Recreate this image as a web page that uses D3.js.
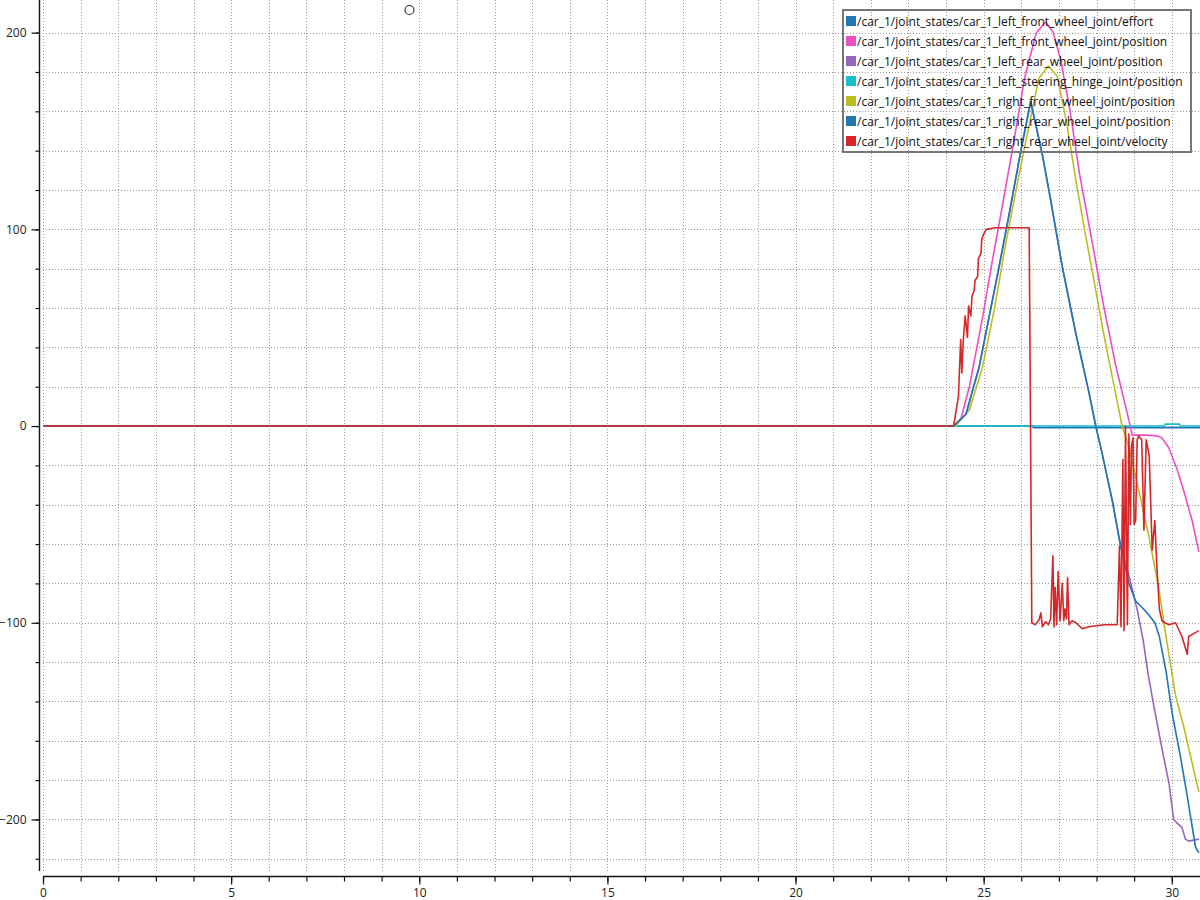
<!DOCTYPE html>
<html>
<head>
<meta charset="utf-8">
<script src="https://cdn.jsdelivr.net/npm/d3@7"></script>
<style>
  body { margin: 0; background: #fff; }
  svg { display: block; font-family: "Open Sans", Roboto, sans-serif; }
</style>
</head>
<body>
<svg id="chart" width="1200" height="900"></svg>
<script>
// time (s), value pairs
const effort = [[0,0],[26.3,0],[26.32,-0.8],[30.75,-0.8]];

const leftFrontPos = [[0,0],[24.2,0],[24.4,4],[24.62,20],[24.97,55],[25.23,84],[25.46,108],[25.76,140],[26.1,178],[26.4,200],
  [26.65,205.5],[26.85,200],[27.05,186],[27.3,160],[27.55,128],[27.9,92],[28.18,62],[28.52,30],[28.86,3],[28.95,-4.6],
  [29.3,-4.6],[29.62,-5],[29.74,-6],[29.92,-11],[30.14,-22],[30.32,-33],[30.54,-48],[30.72,-64]];

const leftRearPos = [[0,0],[24.2,0],[24.53,6],[24.88,30],[25.15,56],[25.41,81],[25.68,108],[25.99,140],[26.25,165],[26.56,138],
  [26.78,115],[27.09,81],[27.45,47],[27.8,17],[27.98,0],[28.15,-14],[28.42,-38],[28.64,-61],[28.86,-76],[29.1,-95],
  [29.24,-109],[29.37,-126],[29.53,-143],[29.75,-165],[29.93,-182],[30.05,-200],[30.15,-202],[30.27,-204],[30.36,-210],
  [30.45,-211],[30.72,-210]];

const steeringPos = [[0,0],[29.8,0],[29.82,1],[30.2,1],[30.22,0],[30.75,0]];

const rightFrontPos = [[0,0],[24.25,0],[24.62,8],[24.97,30],[25.28,59],[25.59,93],[25.81,115],[26.07,140],[26.47,177],[26.72,183],
  [26.95,178],[27.2,155],[27.45,125],[27.7,98],[27.95,72],[28.2,46],[28.45,22],[28.68,0],[28.86,-10.5],[29.12,-32.5],
  [29.39,-56],[29.65,-82],[29.83,-105],[30.1,-137],[30.32,-153],[30.5,-168],[30.72,-186]];

const rightRearPos = [[0,0],[24.2,0],[24.53,6],[24.88,30],[25.15,56],[25.41,81],[25.68,108],[25.99,140],[26.25,165],[26.56,138],
  [26.78,115],[27.09,81],[27.45,47],[27.8,17],[27.98,0],[28.15,-14],[28.42,-38],[28.64,-61],[28.86,-80],[29.04,-89],
  [29.2,-92],[29.39,-96],[29.55,-100],[29.67,-107],[29.76,-116],[29.85,-125],[30.01,-146],[30.23,-168],[30.41,-188],
  [30.63,-214],[30.72,-217]];

const rightRearVel = [[0,0],[24.2,0],[24.33,15],[24.39,44],[24.42,27],[24.46,44],[24.51,56],[24.57,45],[24.6,61],[24.66,56],
  [24.69,66],[24.75,69],[24.77,74],[24.84,76],[24.86,85],[24.93,88],[24.95,95],[25.01,98],[25.07,100],[25.32,100.8],
  [26.21,100.8],[26.28,-100],[26.37,-101],[26.47,-98.6],[26.52,-95],[26.56,-102],[26.65,-99.5],[26.72,-101],[26.78,-98],
  [26.84,-66],[26.87,-102],[26.9,-82],[26.94,-101],[26.98,-74],[27.03,-99],[27.09,-80],[27.13,-99],[27.16,-93],[27.2,-98],
  [27.23,-77],[27.27,-101],[27.35,-99],[27.45,-100],[27.62,-103],[27.8,-102],[28.2,-101],[28.55,-101],[28.61,-61],
  [28.65,-102],[28.7,-17],[28.73,-104],[28.77,0],[28.82,-101],[28.86,-4],[28.9,-50],[28.93,-10],[28.97,-6],[29.0,-50],
  [29.04,-48],[29.08,-7],[29.12,-5],[29.2,-7],[29.26,-53],[29.32,-7],[29.4,-15],[29.48,-63],[29.55,-48],[29.6,-70],
  [29.67,-93],[29.74,-99],[29.82,-100],[29.92,-101],[30.1,-100],[30.27,-107],[30.41,-116],[30.45,-107],[30.63,-105],[30.72,-104]];

const seriesNames = [
  "/car_1/joint_states/car_1_left_front_wheel_joint/effort",
  "/car_1/joint_states/car_1_left_front_wheel_joint/position",
  "/car_1/joint_states/car_1_left_rear_wheel_joint/position",
  "/car_1/joint_states/car_1_left_steering_hinge_joint/position",
  "/car_1/joint_states/car_1_right_front_wheel_joint/position",
  "/car_1/joint_states/car_1_right_rear_wheel_joint/position",
  "/car_1/joint_states/car_1_right_rear_wheel_joint/velocity"
];
const seriesData = [effort, leftFrontPos, leftRearPos, steeringPos, rightFrontPos, rightRearPos, rightRearVel];
const seriesColors = ["#1f77b4", "#f04cc6", "#9467bd", "#17becf", "#bcbd22", "#1f77b4", "#d62728"];

const xMajor = [0, 5, 10, 15, 20, 25, 30];
const yMajor = [-200, -100, 0, 100, 200];

const svg = d3.select("#chart");

const xScale = d3.scaleLinear().domain([0, 30.75]).range([43, 1200]);
const yScale = d3.scaleLinear().domain([-226.2, 216.6]).range([871, 0]);

const xMinor = d3.range(0, 31, 1);
const yMinor = d3.range(-220, 201, 20);

// grid
const grid = svg.append("g").attr("stroke", "#9a9a9a").attr("stroke-width", 1).attr("stroke-dasharray", "1,2");
grid.selectAll(".vg").data(xMinor).enter().append("line")
    .attr("x1", d => Math.round(xScale(d)) + 0.5).attr("x2", d => Math.round(xScale(d)) + 0.5)
    .attr("y1", 0).attr("y2", 871);
grid.selectAll(".hg").data(yMinor).enter().append("line")
    .attr("x1", 43).attr("x2", 1200)
    .attr("y1", d => Math.round(yScale(d)) + 0.5).attr("y2", d => Math.round(yScale(d)) + 0.5);

// axes
const yAxisMinor = svg.append("g").attr("transform", "translate(39.5,0)")
    .call(d3.axisLeft(yScale).tickValues(yMinor).tickSize(4).tickFormat(""));
const yAxisMajor = svg.append("g").attr("transform", "translate(39.5,0)")
    .call(d3.axisLeft(yScale).tickValues(yMajor).tickSize(8).tickPadding(5));
const xAxisMinor = svg.append("g").attr("transform", "translate(0,876.5)")
    .call(d3.axisBottom(xScale).tickValues(xMinor).tickSize(5).tickFormat(""));
const xAxisMajor = svg.append("g").attr("transform", "translate(0,876.5)")
    .call(d3.axisBottom(xScale).tickValues(xMajor).tickSize(8).tickPadding(4));

[yAxisMinor, yAxisMajor, xAxisMinor, xAxisMajor].forEach(g => {
    g.select(".domain").remove();
    g.selectAll("line").attr("stroke", "#111").attr("stroke-width", 1.2);
    g.selectAll("text").attr("fill", "#222").style("font-size", "12px").style("font-family", "'Open Sans', Roboto, sans-serif");
});

svg.append("line").attr("x1", 39.5).attr("x2", 39.5).attr("y1", 0).attr("y2", 871)
   .attr("stroke", "#111").attr("stroke-width", 1.4);
svg.append("line").attr("x1", 43).attr("x2", 1200).attr("y1", 876.5).attr("y2", 876.5)
   .attr("stroke", "#111").attr("stroke-width", 1.4);

// lines
const line = d3.line().x(d => xScale(d[0])).y(d => yScale(d[1]));

svg.append("g").selectAll("path").data(seriesData).enter().append("path")
   .attr("fill", "none")
   .attr("stroke", (d, i) => seriesColors[i])
   .attr("stroke-width", 1.6)
   .attr("stroke-linejoin", "round")
   .attr("d", line);

// legend
const legend = svg.append("g").attr("transform", "translate(843,10)");
legend.append("rect").attr("x", 0).attr("y", 0).attr("width", 348).attr("height", 142)
      .attr("fill", "none").attr("stroke", "#777").attr("stroke-width", 2);
const rows = legend.selectAll(".row").data(seriesNames).enter().append("g")
      .attr("transform", (d, i) => "translate(0," + (11 + i * 20) + ")");
rows.append("rect").attr("x", 3).attr("y", -5).attr("width", 10).attr("height", 10)
    .attr("fill", (d, i) => seriesColors[i]);
rows.append("text").attr("x", 14).attr("y", 4.5).text(d => d)
    .attr("fill", "#111").style("font-size", "12px");

// small marker near the top
svg.append("circle").attr("cx", 409.5).attr("cy", 10).attr("r", 4.5)
   .attr("fill", "#fff").attr("stroke", "#333").attr("stroke-width", 1.2);
</script>
</body>
</html>
